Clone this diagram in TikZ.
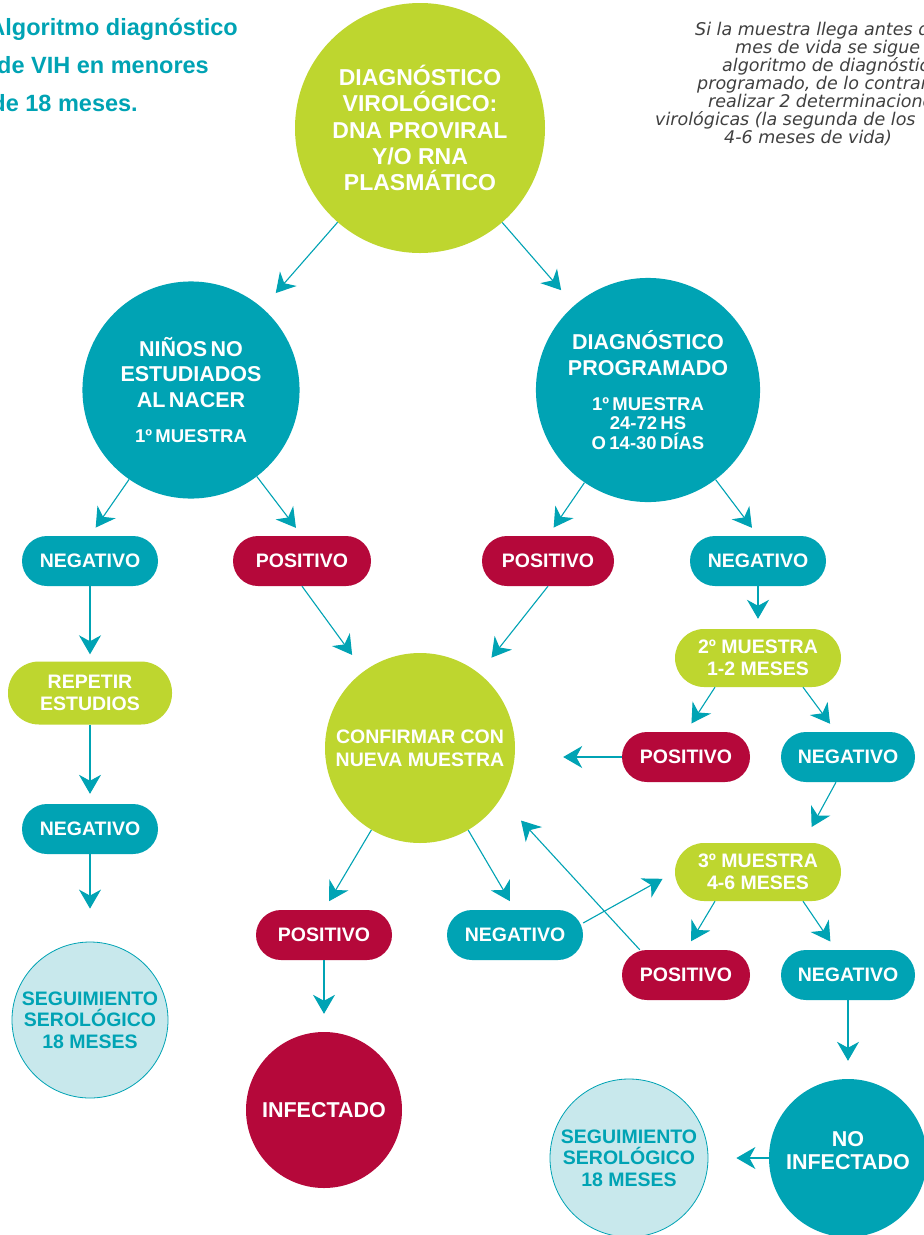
\documentclass[tikz,border=0pt]{standalone}
\usepackage{fontspec}
\setmainfont{Liberation Sans}
\newfontfamily\notefont{DejaVu Sans}
\usetikzlibrary{arrows.meta}
\definecolor{tealc}{HTML}{00A3B4}
\definecolor{limec}{HTML}{BED62F}
\definecolor{redc}{HTML}{B5083A}
\definecolor{lightc}{HTML}{C8E8EC}
\newcommand{\fsz}[2]{\fontsize{#1}{#2}\selectfont}
\begin{document}
\begin{tikzpicture}[x=1pt,y=-1pt,
  arr/.style={draw=tealc, line width=1.1pt, -{Stealth[length=19pt,width=22pt,inset=6pt]}, shorten >=10pt},
  pillbase/.style={rectangle, text=white, font={\fsz{19.5}{22}\bfseries}, align=center, inner sep=0pt},
  negpill/.style={pillbase, fill=tealc, minimum width=136pt, minimum height=50pt, rounded corners=25pt},
  pospill/.style={pillbase, fill=redc, minimum width=136pt, minimum height=50pt, rounded corners=25pt},
  greenpill/.style={pillbase, fill=limec, minimum width=166pt, minimum height=58pt, rounded corners=29pt},
  circbase/.style={circle, inner sep=0pt, align=center, text=white},
  title/.style={font={\fsz{23.5}{26}\bfseries}, text=tealc, inner sep=0pt, anchor=base east},
  note/.style={font={\notefont\itshape\fsz{17.5}{18}}, text=black!75, inner sep=0pt, anchor=base west},
  lightcirc/.style={circle, inner sep=0pt, align=center, fill=lightc, draw=tealc, line width=0.8pt, text=tealc, minimum size=156pt, font={\fsz{19.5}{21.5}\bfseries}}
]
\useasboundingbox (0,0) rectangle (924,1235);
\fill[white] (0,0) rectangle (924,1235);
\clip (0,0) rectangle (924,1235);

% title
\node[title] (t1) at (238,35) {Algoritmo diagnóstico};
\node[title] (t2) at (209,73) {de VIH en menores};
\node[title] (t3) at (138,111) {de 18 meses.};

% note
\node[note] (n1) at (695,35) {Si la muestra llega antes del};
\node[note] (n2) at (735,53) {mes de vida se sigue el};
\node[note] (n3) at (722,71) {algoritmo de diagnóstico};
\node[note] (n4n) at (697,89) {programado, de lo contrario};
\node[note] (n5n) at (708,107) {realizar 2 determinaciones};
\node[note] (n6n) at (655,125) {virológicas (la segunda de los};
\node[note] (n7n) at (724,143) {4-6 meses de vida)};

% circles
\node[circbase, fill=limec, minimum size=250pt, font={\fsz{23}{26.3}\bfseries}] (top) at (420,128)
  {DIAGNÓSTICO\\VIROLÓGICO:\\DNA PROVIRAL\\Y/O RNA\\PLASMÁTICO};
\node[circbase, fill=tealc, minimum size=194pt, text width=190pt] (nino) at (191,390)
  {{\fsz{21.5}{25.5}\bfseries NIÑOS NO\\ESTUDIADOS\\AL NACER\par}\vskip 16pt{\fsz{18.5}{19.5}\bfseries 1º MUESTRA\par}};
\node[circbase, fill=tealc, minimum size=194pt, text width=190pt] (prog) at (648,390)
  {{\fsz{21.5}{25.5}\bfseries DIAGNÓSTICO\\PROGRAMADO\par}\vskip 15.5pt{\fsz{18.5}{19.5}\bfseries 1º MUESTRA\\24-72 HS\\O 14-30 DÍAS\par}};
\node[circbase, fill=limec, minimum size=190pt, font={\fsz{19.5}{23}\bfseries}] (conf) at (420,748)
  {CONFIRMAR CON\\NUEVA MUESTRA};
\node[circbase, fill=redc, minimum size=156pt, font={\fsz{21.5}{23}\bfseries}] (inf) at (324,1110) {INFECTADO};
\node[circbase, fill=tealc, minimum size=158pt, font={\fsz{21.5}{23}\bfseries}, text depth=15pt] (noinf) at (848,1158)
  {NO\\INFECTADO};
\node[lightcirc] (seg1) at (90,1020) {SEGUIMIENTO\\SEROLÓGICO\\18 MESES};
\node[lightcirc, minimum size=158pt] (seg2) at (629,1158) {SEGUIMIENTO\\SEROLÓGICO\\18 MESES};

% pills
\node[negpill] (neg1) at (90,561) {NEGATIVO};
\node[pospill, minimum width=138pt] (pos1) at (302,561) {POSITIVO};
\node[pospill, minimum width=132pt] (pos2) at (548,561) {POSITIVO};
\node[negpill] (neg2) at (758,561) {NEGATIVO};
\node[greenpill, minimum width=164pt, minimum height=63pt, rounded corners=31pt] (rep) at (90,693) {REPETIR\\ESTUDIOS};
\node[negpill] (neg3) at (90,829) {NEGATIVO};
\node[greenpill] (m2) at (758,658) {2º MUESTRA\\1-2 MESES};
\node[pospill, minimum width=128pt] (p3) at (686,757) {POSITIVO};
\node[negpill, minimum width=134pt] (n4) at (848,757) {NEGATIVO};
\node[greenpill] (m3) at (758,872) {3º MUESTRA\\4-6 MESES};
\node[pospill] (pos3) at (324,935) {POSITIVO};
\node[negpill] (neg5) at (515,935) {NEGATIVO};
\node[pospill, minimum width=128pt] (p4) at (686,975) {POSITIVO};
\node[negpill, minimum width=134pt] (n6) at (848,975) {NEGATIVO};

% connectors
\draw[arr, shorten >=20pt] (top) -- (nino);
\draw[arr, shorten >=20pt] (top) -- (prog);
\draw[arr] (nino) -- (neg1.north);
\draw[arr] (nino) -- (pos1.north);
\draw[arr] (prog) -- (pos2.north);
\draw[arr] (prog) -- (neg2.north);
\draw[arr, shorten >=7pt] (neg1) -- (rep);
\draw[arr] (rep) -- (neg3);
\draw[arr, shorten >=33pt] (neg3) -- (seg1);
\draw[arr, shorten >=20pt] (pos1.south) -- (conf);
\draw[arr, shorten >=20pt] (pos2.south) -- (conf);
\draw[arr] (neg2) -- (m2);
\draw[arr] ([xshift=-43pt]m2.south) -- (p3.north);
\draw[arr] ([xshift=45pt]m2.south) -- ([xshift=-12pt]n4.north);
\draw[arr, shorten >=48pt] (p3.west) -- (p3.west -| conf.east);
\draw[arr, shorten >=18pt] ([xshift=-12pt]n4.south) -- ([xshift=45pt]m3.north);
\draw[arr, shorten >=14pt] (neg5.10) -- (m3.west);
\draw[arr] ([xshift=-43pt]m3.south) -- (p4.north);
\draw[arr] ([xshift=45pt]m3.south) -- ([xshift=-12pt]n6.north);
\draw[arr, shorten >=30pt] ([xshift=18pt]p4.north west) -- (conf.-32);
\draw[arr, shorten >=18pt] (n6) -- (noinf);
\draw[arr, shorten >=28pt] (noinf.west) -- (seg2);
\draw[arr] (conf) -- (pos3.north);
\draw[arr] (conf) -- (neg5.north);
\draw[arr, shorten >=18pt] (pos3) -- (inf);
\end{tikzpicture}
\end{document}
